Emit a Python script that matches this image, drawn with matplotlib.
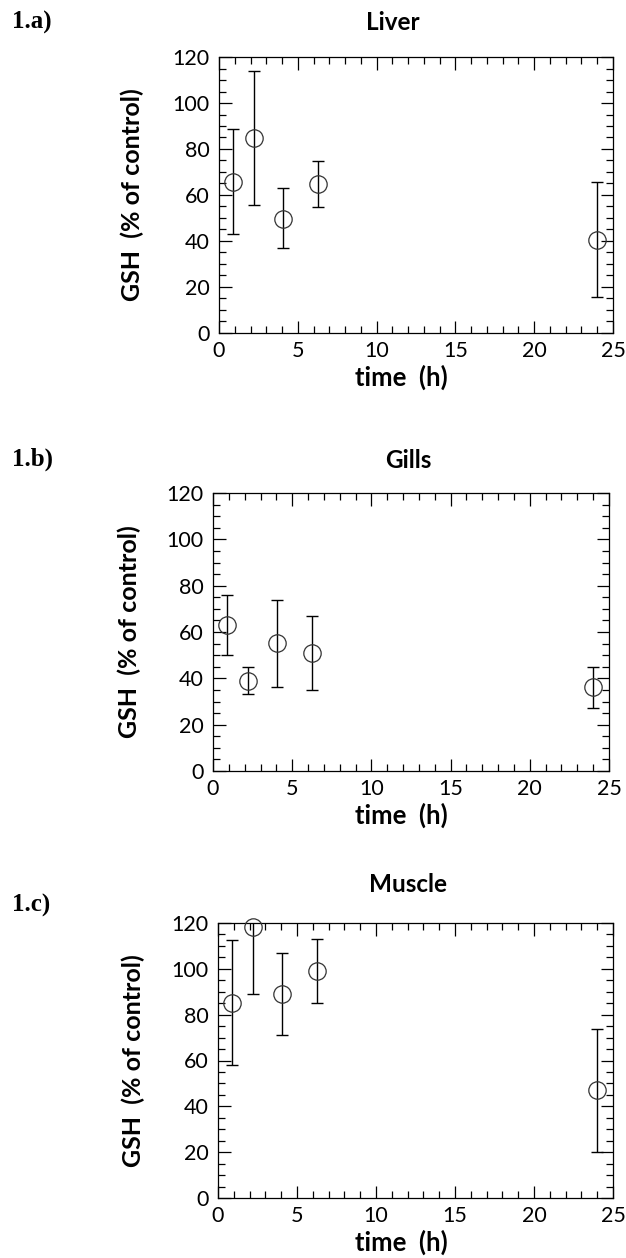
import matplotlib
matplotlib.use('Agg')
import matplotlib.pyplot as plt
from matplotlib.ticker import MultipleLocator

# data: time (h), mean, upper and lower end of bar
times = [0.9, 2.2, 4.05, 6.25, 24.0]

liver_mean = [65.6, 84.8, 49.7, 64.8, 40.4]
liver_top = [88.5, 113.8, 62.9, 74.6, 65.5]
liver_bot = [42.9, 55.5, 36.8, 54.6, 15.7]

gills_mean = [63.0, 39.0, 55.2, 51.1, 36.1]
gills_top = [75.8, 45.0, 73.9, 66.8, 45.0]
gills_bot = [49.9, 33.1, 36.1, 34.8, 27.2]

muscle_mean = [85.3, 118.2, 89.1, 99.1, 47.2]
muscle_top = [112.4, 147.4, 107.1, 113.2, 73.9]
muscle_bot = [57.9, 89.0, 71.1, 85.0, 20.0]

panels = [
    ('1.a)', 'Liver', liver_mean, liver_top, liver_bot),
    ('1.b)', 'Gills', gills_mean, gills_top, gills_bot),
    ('1.c)', 'Muscle', muscle_mean, muscle_top, muscle_bot),
]

# axes boxes in pixels: left, top, right, bottom
boxes = [(219, 57, 613, 333), (213, 493, 609, 771), (218, 923, 613, 1198)]
tags_y = [29, 466, 912]
titles_xy = [(393, 23), (408, 460), (408, 885)]
ylab_x = [132, 129, 133]

W, H = 626, 1258
fig = plt.figure(figsize=(W / 100, H / 100), dpi=100)
sans = 'Lato'

for (tag, name, mean, top, bot), (l, t, r, b), ty, (tx, tty), yx in zip(
        panels, boxes, tags_y, titles_xy, ylab_x):
    ax = fig.add_axes([l / W, 1 - b / H, (r - l) / W, (b - t) / H])
    err = [[m - lo for m, lo in zip(mean, bot)], [hi - m for m, hi in zip(mean, top)]]
    ax.errorbar(times, mean, yerr=err, fmt='none', ecolor='black',
                elinewidth=1.0, capsize=4.5, capthick=1.0)
    ax.plot(times, mean, 'o', ms=12.5, mfc='none', mec='#333333', mew=0.9,
            clip_on=False, zorder=3)

    ax.set_xlim(0, 25)
    ax.set_ylim(0, 120)
    ax.xaxis.set_major_locator(MultipleLocator(5))
    ax.xaxis.set_minor_locator(MultipleLocator(1))
    ax.yaxis.set_major_locator(MultipleLocator(20))
    ax.yaxis.set_minor_locator(MultipleLocator(5))
    ax.tick_params(which='both', direction='in', top=True, right=True,
                   width=0.9, labelsize=15.5)
    ax.tick_params(axis='x', pad=6)
    ax.tick_params(axis='y', pad=7)
    ax.tick_params(which='major', length=9)
    ax.tick_params(which='minor', length=5)
    for lab in ax.get_xticklabels() + ax.get_yticklabels():
        lab.set_family(sans)
    for sp in ax.spines.values():
        sp.set_linewidth(0.9)

    ax.set_xlabel('time  (h)', fontsize=18.5, fontweight='bold', family=sans,
                  va='center')
    ax.xaxis.set_label_coords((401 - l) / (r - l), -44 / (b - t))
    ax.set_ylabel('GSH  (% of control)', fontsize=18, fontweight='bold',
                  family=sans, va='center')
    ax.yaxis.set_label_coords((yx - l) / (r - l), 0.5)

    fig.text(tx / W, 1 - tty / H, name, fontsize=17.5, fontweight='bold',
             family=sans, ha='center', va='center')
    fig.text(12 / W, 1 - ty / H, tag, fontsize=18, fontweight='bold',
             family='Liberation Serif', ha='left', va='baseline')

fig.savefig('out.png', dpi=100)
